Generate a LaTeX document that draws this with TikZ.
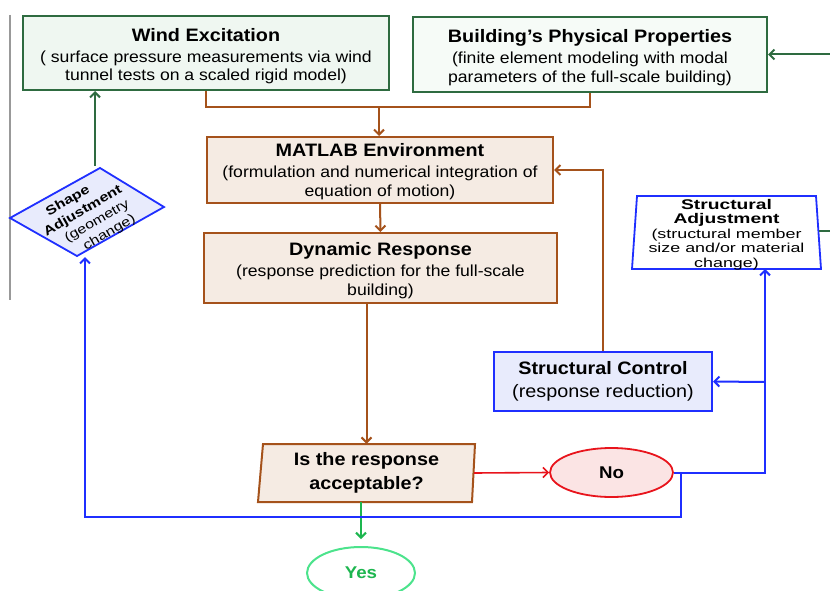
\documentclass[tikz,border=0pt]{standalone}
\usepackage{fontspec}
\setmainfont{Liberation Sans}[FakeStretch=1.1]
\usetikzlibrary{arrows.meta,calc,shapes.geometric}
\definecolor{brn}{HTML}{A5521B}
\definecolor{dgrn}{HTML}{2E6B40}
\definecolor{blu}{HTML}{1F2FFF}
\definecolor{rd}{HTML}{E8141C}
\definecolor{ygrn}{HTML}{1DB64F}
\definecolor{ylgrn}{HTML}{4CE38C}
\definecolor{beige}{HTML}{F5EBE3}
\definecolor{lgrn}{HTML}{EFF7F1}
\definecolor{lgrnb}{HTML}{F6FBF7}
\definecolor{lblu}{HTML}{E8EBFC}
\definecolor{lpink}{HTML}{FBE4E4}
\newcommand\mytitle[1]{{\fontsize{18}{21}\selectfont\bfseries #1}}
\begin{document}
\begin{tikzpicture}[x=1pt,y=-1pt,
  tip/.style={-{Straight Barb[length=5pt,width=10pt]}},
  box/.style={rectangle, line width=2pt, align=center, inner sep=0pt,
    font=\fontsize{16}{19.5}\selectfont},
  txt/.style={align=center, inner sep=0pt},
  conn/.style={line width=2pt, line join=miter}
]
\useasboundingbox (0,0) rectangle (830,591);
\clip (0,0) rectangle (830,591);

% left gray rule
\draw[gray!80, line width=2pt] (10,15) -- (10,300);

% top boxes
\node[box, draw=dgrn, fill=lgrn, minimum width=366pt, minimum height=74pt] (wind) at (206,53) {};
\node[txt, font=\fontsize{16}{18.5}\selectfont] (windt) at ([yshift=-3pt]wind.center)
  {\mytitle{Wind Excitation}\\[2.5pt]( surface pressure measurements via wind\\tunnel tests on a scaled rigid model)};
\node[box, draw=dgrn, fill=lgrnb, minimum width=354pt, minimum height=75pt] (bld) at (590,54.5) {};
\node[txt, font=\fontsize{16}{18.5}\selectfont] (bldt) at ([yshift=-3pt]bld.center)
  {\mytitle{Building’s Physical Properties}\\[2.5pt](finite element modeling with modal\\parameters of the full-scale building)};

% middle boxes
\node[box, draw=brn, fill=beige, minimum width=346pt, minimum height=66pt] (matlab) at (380,170) {};
\node[txt, font=\fontsize{16}{19.5}\selectfont] (matlabt) at ([yshift=-2pt]matlab.center)
  {\mytitle{MATLAB Environment}\\[1pt](formulation and numerical integration of\\equation of motion)};
\node[box, draw=brn, fill=beige, minimum width=353pt, minimum height=70pt] (dyn) at (380.5,268) {};
\node[txt, font=\fontsize{16}{19.5}\selectfont] (dynt) at ([yshift=-3pt]dyn.center)
  {\mytitle{Dynamic Response}\\[1pt](response prediction for the full-scale\\building)};

% decision
\coordinate (decc) at (366.5,473);
\draw[brn, line width=2pt, fill=beige] ($(decc)+(-103.5,-29)$) -- ($(decc)+(108.5,-29)$)
  -- ($(decc)+(105.5,29)$) -- ($(decc)+(-108.5,29)$) -- cycle;
\node[txt, font=\fontsize{18}{23.5}\selectfont\bfseries, minimum width=215pt, minimum height=58pt] (dec) at (decc)
  {\raisebox{-1pt}{Is the response}\\\raisebox{-1pt}{acceptable?}};

% no / yes
\node[ellipse, draw=rd, fill=lpink, line width=1.8pt, minimum width=123pt, minimum height=49pt, inner sep=0pt,
  font=\fontsize{17}{20}\selectfont\bfseries] (no) at (611.5,472.5) {No};
\node[ellipse, draw=ylgrn, fill=white, line width=2pt, minimum width=108pt, minimum height=52pt, inner sep=0pt,
  text=ygrn, font=\fontsize{17}{20}\selectfont\bfseries] (yes) at (361,573) {Yes};

% structural control
\node[box, draw=blu, fill=lblu, minimum width=218pt, minimum height=59pt,
  font=\fontsize{18}{23.5}\selectfont] (sc) at (603,381.5)
  {\raisebox{-1.5pt}{\textbf{Structural Control}}\\\raisebox{-1.5pt}{(response reduction)}};

% structural adjustment (trapezium)
\coordinate (sac) at (726.5,232.5);
\draw[blu, line width=1.8pt, fill=white] ($(sac)+(-89.5,-36.5)$) -- ($(sac)+(89.5,-36.5)$)
  -- ($(sac)+(94.5,36.5)$) -- ($(sac)+(-94.5,36.5)$) -- cycle;
\node[txt, font=\fontsize{13}{14.5}\selectfont] (sa) at ([yshift=-2pt]sac)
  {\scalebox{1.25}[1]{\fontsize{14}{14.5}\selectfont\bfseries Structural}\\
   \scalebox{1.25}[1]{\fontsize{14}{14.5}\selectfont\bfseries Adjustment}\\
   \scalebox{1.25}[1]{(structural member}\\
   \scalebox{1.25}[1]{size and/or material}\\
   \scalebox{1.25}[1]{change)}};

% shape adjustment (rotated parallelogram)
\coordinate (shc) at (88,212);
\draw[blu, line width=1.8pt, fill=lblu] ($(shc)+(12,-44)$) -- ($(shc)+(76,-5)$)
  -- ($(shc)+(-11,44)$) -- ($(shc)+(-78,6)$) -- cycle;
\node[txt, rotate=30, font=\fontsize{13}{16}\selectfont] (shape) at (87,218)
  {\scalebox{1.12}[1]{\bfseries Shape}\hspace*{16pt}\\
   \scalebox{1.12}[1]{\bfseries Adjustment}\\
   \hspace*{14pt}\scalebox{1.12}[1]{(geometry}\\
   \hspace*{24pt}\scalebox{1.12}[1]{change)}};

% ---- connectors ----
% wind + building -> matlab
\coordinate (jt) at (379,107);
\draw[brn, conn] (wind.south) |- (jt) -| (bld.south);
\draw[brn, conn, tip] (jt) -- (jt |- matlab.north);
\draw[brn, conn, tip] (matlab.south) -- (dyn.north);
\draw[brn, conn, tip] (dec.north |- dyn.south) -- (dec.north);
\draw[brn, conn, tip] (sc.north) |- (matlab.east);

% decision -> no
\draw[rd, line width=1.6pt, tip] (dec.east) -- (no.west);
% decision -> yes
\draw[ygrn, line width=2pt, tip, shorten >=7pt] (yes.north |- dec.south) -- (yes.north);

% no -> structural adjustment / structural control
\coordinate (bx) at (765,382);
\coordinate (sab) at (765,269);
\draw[blu, conn, tip] (no.east) -| (bx) -- (sab);
\draw[blu, conn, tip] (bx) -- (sc.east);

% no -> shape adjustment
\coordinate (nb) at (681,472.5);
\coordinate (lb) at (85,517);
\coordinate (shb) at (85,257);
\draw[blu, conn, tip] (nb) |- (lb) -- (shb);

% shape adjustment -> wind
\coordinate (sht) at (95,166);
\draw[dgrn, conn, tip] (sht) -- (sht |- wind.south);

% external inputs
\coordinate (re) at (830,54.5);
\draw[dgrn, conn, tip] (re) -- (bld.east);
\coordinate (sae) at (830,231);
\draw[dgrn, conn] ($(sac)+(92.5,-1.5)$) -- (sae);
\end{tikzpicture}
\end{document}
